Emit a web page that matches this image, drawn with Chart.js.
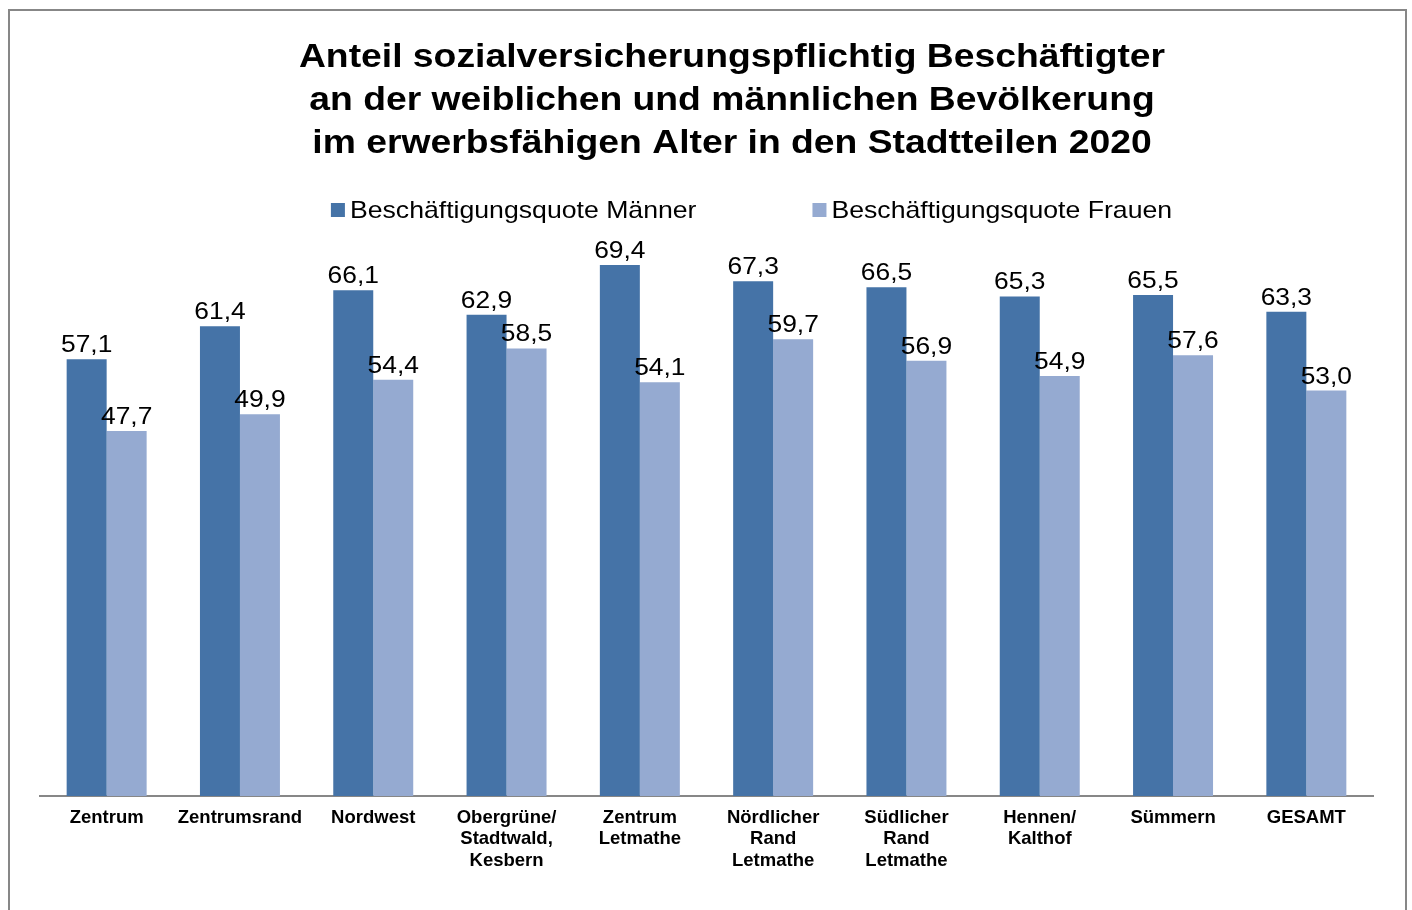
<!DOCTYPE html>
<html>
<head>
<meta charset="utf-8">
<script src="https://cdn.jsdelivr.net/npm/chart.js@4.4.1/dist/chart.umd.min.js"></script>
<style>
  html, body { margin: 0; padding: 0; background: #ffffff; overflow: hidden; }
  #wrap { position: relative; width: 1412px; height: 910px; }
  canvas { display: block; }
</style>
</head>
<body>
<div id="wrap"><canvas id="c" width="1412" height="910"></canvas></div>
<script>
const titleLines = [
  'Anteil sozialversicherungspflichtig Beschäftigter',
  'an der weiblichen und männlichen Bevölkerung',
  'im erwerbsfähigen Alter in den Stadtteilen 2020'
];
const categories = [
  'Zentrum',
  'Zentrumsrand',
  'Nordwest',
  ['Obergrüne/', 'Stadtwald,', 'Kesbern'],
  ['Zentrum', 'Letmathe'],
  ['Nördlicher', 'Rand', 'Letmathe'],
  ['Südlicher', 'Rand', 'Letmathe'],
  ['Hennen/', 'Kalthof'],
  'Sümmern',
  'GESAMT'
];
const seriesNames = ['Beschäftigungsquote Männer', 'Beschäftigungsquote Frauen'];
const men = [57.1, 61.4, 66.1, 62.9, 69.4, 67.3, 66.5, 65.3, 65.5, 63.3];
const women = [47.7, 49.9, 54.4, 58.5, 54.1, 59.7, 56.9, 54.9, 57.6, 53.0];

const FONT = '"Liberation Sans", Arial, Helvetica, sans-serif';
const COL_MEN = '#4573A7';
const COL_WOMEN = '#95AAD1';

function fmt(v) { return v.toFixed(1).replace('.', ','); }

function stretchedText(ctx, text, x, y, sx) {
  ctx.save();
  ctx.translate(x, y);
  ctx.scale(sx, 1);
  ctx.fillText(text, 0, 0);
  ctx.restore();
}

const framePlugin = {
  id: 'frame',
  beforeDraw(chart) {
    const ctx = chart.ctx;
    ctx.save();
    ctx.fillStyle = '#ffffff';
    ctx.fillRect(0, 0, chart.width, chart.height);
    ctx.strokeStyle = '#878787';
    ctx.lineWidth = 2;
    ctx.strokeRect(9, 10, 1397, 950);
    ctx.restore();
  }
};

const titlePlugin = {
  id: 'customTitle',
  afterDraw(chart) {
    const ctx = chart.ctx;
    ctx.save();
    ctx.fillStyle = '#000000';
    ctx.font = 'bold 33px ' + FONT;
    ctx.textAlign = 'center';
    ctx.textBaseline = 'middle';
    const cx = 732, y0 = 58, lh = 43;
    titleLines.forEach((t, i) => stretchedText(ctx, t, cx, y0 + i * lh, 1.13));
    ctx.restore();
  }
};

const legendPlugin = {
  id: 'customLegend',
  afterDraw(chart) {
    const ctx = chart.ctx;
    ctx.save();
    ctx.font = '24px ' + FONT;
    ctx.textBaseline = 'middle';
    ctx.textAlign = 'left';
    const sx = 1.11;
    const box = 14, gapText = 5, gapItems = 116;
    const items = chart.data.datasets.map(ds => ({
      text: ds.label, color: ds.backgroundColor, w: box + gapText + ctx.measureText(ds.label).width * sx
    }));
    const total = items.reduce((s, it) => s + it.w, 0) + gapItems * (items.length - 1);
    let x = 751.5 - total / 2;
    const y = 210;
    items.forEach(it => {
      ctx.fillStyle = it.color;
      ctx.fillRect(x, y - box / 2, box, box);
      ctx.fillStyle = '#000000';
      stretchedText(ctx, it.text, x + box + gapText, y + 1, sx);
      x += it.w + gapItems;
    });
    ctx.restore();
  }
};

const valueLabelPlugin = {
  id: 'valueLabels',
  afterDatasetsDraw(chart) {
    const ctx = chart.ctx;
    ctx.save();
    ctx.font = '24px ' + FONT;
    ctx.fillStyle = '#000000';
    ctx.textAlign = 'center';
    ctx.textBaseline = 'alphabetic';
    chart.data.datasets.forEach((ds, di) => {
      const meta = chart.getDatasetMeta(di);
      meta.data.forEach((bar, i) => {
        stretchedText(ctx, fmt(ds.data[i]), bar.x, bar.y - 7, 1.1);
      });
    });
    ctx.restore();
  }
};

new Chart(document.getElementById('c'), {
  type: 'bar',
  data: {
    labels: categories,
    datasets: [
      { label: seriesNames[0], data: men, backgroundColor: COL_MEN, borderWidth: 0 },
      { label: seriesNames[1], data: women, backgroundColor: COL_WOMEN, borderWidth: 0 }
    ]
  },
  options: {
    responsive: false,
    devicePixelRatio: 1,
    animation: false,
    layout: { padding: { left: 40, right: 39, top: 184, bottom: 0 } },
    plugins: {
      legend: { display: false },
      title: { display: false },
      tooltip: { enabled: false }
    },
    datasets: {
      bar: { categoryPercentage: 0.6, barPercentage: 1.0 }
    },
    scales: {
      x: {
        grid: { display: false, drawTicks: false },
        border: { display: true, color: '#878787', width: 2 },
        ticks: {
          color: '#000000',
          font: { family: FONT, size: 18.5, weight: 'bold', lineHeight: 1.16 },
          padding: 11,
          maxRotation: 0,
          autoSkip: false
        },
        afterFit(scale) { scale.height = 114; }
      },
      y: {
        display: false,
        min: 0,
        max: 80
      }
    }
  },
  plugins: [framePlugin, titlePlugin, legendPlugin, valueLabelPlugin]
});
</script>
</body>
</html>
